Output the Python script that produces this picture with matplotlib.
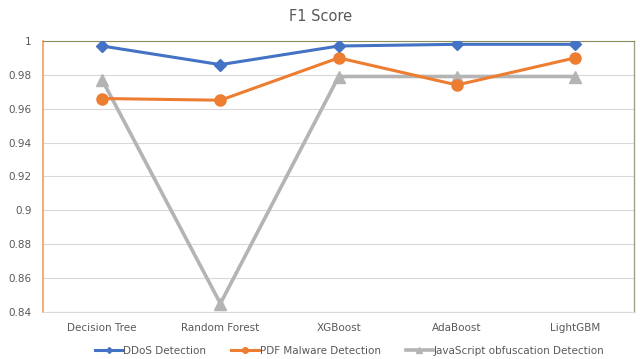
import matplotlib
matplotlib.use('Agg')
import matplotlib.pyplot as plt

models = ["Decision Tree", "Random Forest", "XGBoost", "AdaBoost", "LightGBM"]
ddos = [0.997, 0.986, 0.997, 0.998, 0.998]
pdf = [0.966, 0.965, 0.990, 0.974, 0.990]
js = [0.977, 0.845, 0.979, 0.979, 0.979]

fig = plt.figure(figsize=(6.42, 3.59), dpi=100)
ax = fig.add_axes([0.067, 0.131, 0.921, 0.755])

x = range(len(models))
ax.plot(x, ddos, color='#4472C4', lw=2.2, marker='D', ms=6, label='DDoS Detection', zorder=4)
ax.plot(x, pdf, color='#ED7D31', lw=2.2, marker='o', ms=8, label='PDF Malware Detection', zorder=3)
ax.plot(x, js, color='#B4B4B4', lw=2.6, marker='^', ms=8, label='JavaScript obfuscation Detection', zorder=2)

ax.set_xlim(-0.5, 4.5)
ax.set_ylim(0.84, 1.0)
ax.set_yticks([0.84, 0.86, 0.88, 0.9, 0.92, 0.94, 0.96, 0.98, 1])
ax.set_yticklabels(['0.84', '0.86', '0.88', '0.9', '0.92', '0.94', '0.96', '0.98', '1'])
ax.set_xticks(list(x))
ax.set_xticklabels(models)
ax.tick_params(axis='both', length=0, labelsize=7.5, labelcolor='#595959', pad=8)
ax.grid(axis='y', color='#D9D9D9', lw=0.8)
ax.set_axisbelow(True)

# odd border colours
ax.spines['left'].set_color('#F0A060')
ax.spines['left'].set_linewidth(1.2)
ax.spines['bottom'].set_color('#D9D9D9')
ax.spines['top'].set_color('#8C8C5A')
ax.spines['top'].set_linewidth(0.8)
ax.spines['right'].set_color('#A0A08C')
ax.spines['right'].set_linewidth(1.0)

fig.text(0.5, 0.955, 'F1 Score', ha='center', va='center', fontsize=10.5, color='#595959')

fig.legend(loc='center', bbox_to_anchor=(0.545, 0.022), ncol=3, frameon=False,
           fontsize=7.5, labelcolor='#595959', markerscale=0.5, handlelength=2.6,
           handletextpad=0.1, columnspacing=2.4)

plt.savefig('out.png', dpi=100)
